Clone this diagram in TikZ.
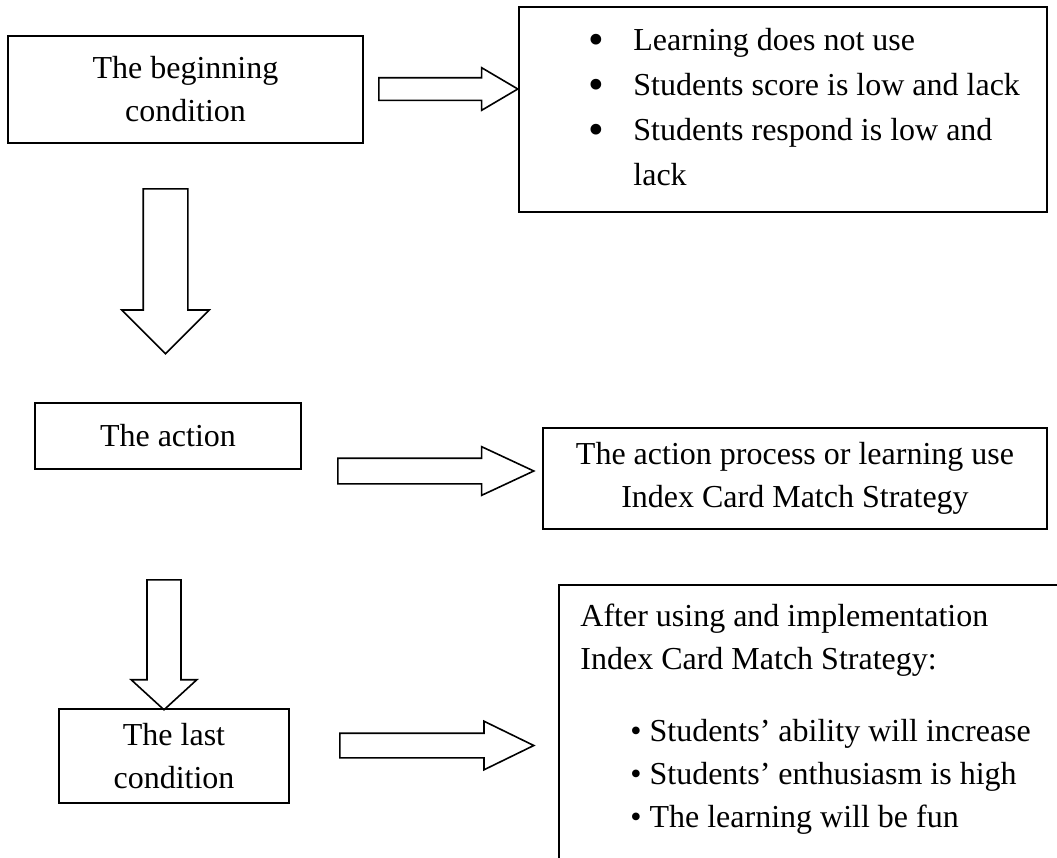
\documentclass[tikz,border=0pt]{standalone}
\usepackage{fontspec}
\setmainfont{Liberation Serif}
\usepackage{tikz}
\usetikzlibrary{shapes.arrows}

\tikzset{
  box/.style={draw, line width=.8pt, inner sep=0pt, align=center, font=\fontsize{16}{21.5}\selectfont},
  txt/.style={inner sep=0pt, align=left, font=\fontsize{16}{22.5}\selectfont},
  bigarrow/.style={single arrow, draw, line width=.8pt, inner xsep=0pt, anchor=tail},
}
\newcommand{\itm}[1]{\makebox[22.5pt][l]{\raisebox{-2.2pt}{\scalebox{1.4}{\textbullet}}}#1}

\begin{document}
\begin{tikzpicture}[x=0.5pt, y=-0.5pt]
	\useasboundingbox (0,0) rectangle (1057,858) ;
	\clip (0,0) rectangle (1057,858) ;
	% boxes
	\node[box, minimum width=177.5pt, minimum height=53.5pt] (begin) at (185.5,89.5) {The beginning\\condition} ;
	\node[box, minimum width=264pt, minimum height=102.5pt] (beginlist) at (783,109.5) {} ;
	\node[box, minimum width=133pt, minimum height=33pt] (action) at (168,436) {The action} ;
	\node[box, minimum width=252pt, minimum height=50.5pt] (process) at (795,478.5) {The action process or learning use\\Index Card Match Strategy} ;
	\node[box, minimum width=115pt, minimum height=47pt] (last) at (174,756) {The last\\condition} ;
	\node[box, minimum width=270.5pt, minimum height=157.5pt] (lastlist) at (829.5,742.5) {} ;
	% texts
	\node[txt, anchor=west] (beginitems) at (588,107) {\itm{Learning does not use}\\ \itm{Students score is low and lack}\\ \itm{Students respond is low and}\\ \hspace*{22.5pt}lack} ;
	\node[txt, anchor=west, font=\fontsize{16}{21.5}\selectfont] (lastitems) at (580,719) {After using and implementation\\ Index Card Match Strategy:\\[14.5pt] \hspace*{25pt}\textbullet\ Students’ ability will increase\\ \hspace*{25pt}\textbullet\ Students’ enthusiasm is high\\ \hspace*{25pt}\textbullet\ The learning will be fun} ;
	% arrows
	\node[bigarrow, minimum height=69.5pt, inner ysep=5.25pt, single arrow head extend=5pt, single arrow tip angle=61] (a1) at (378,89) {} ;
	\node[bigarrow, rotate=-90, minimum height=82.5pt, inner ysep=10.75pt, single arrow head extend=10.75pt, single arrow tip angle=90] (d1) at (165.5,188) {} ;
	\node[bigarrow, minimum height=98pt, inner ysep=6pt, single arrow head extend=5.75pt, single arrow tip angle=50] (a2) at (337,471) {} ;
	\node[bigarrow, rotate=-90, minimum height=65pt, inner ysep=8.1pt, single arrow head extend=7.9pt, single arrow tip angle=95] (d2) at (164,579) {} ;
	\node[bigarrow, minimum height=97pt, inner ysep=5.75pt, single arrow head extend=6pt, single arrow tip angle=52] (a3) at (339,745.5) {} ;
\end{tikzpicture}
\end{document}
